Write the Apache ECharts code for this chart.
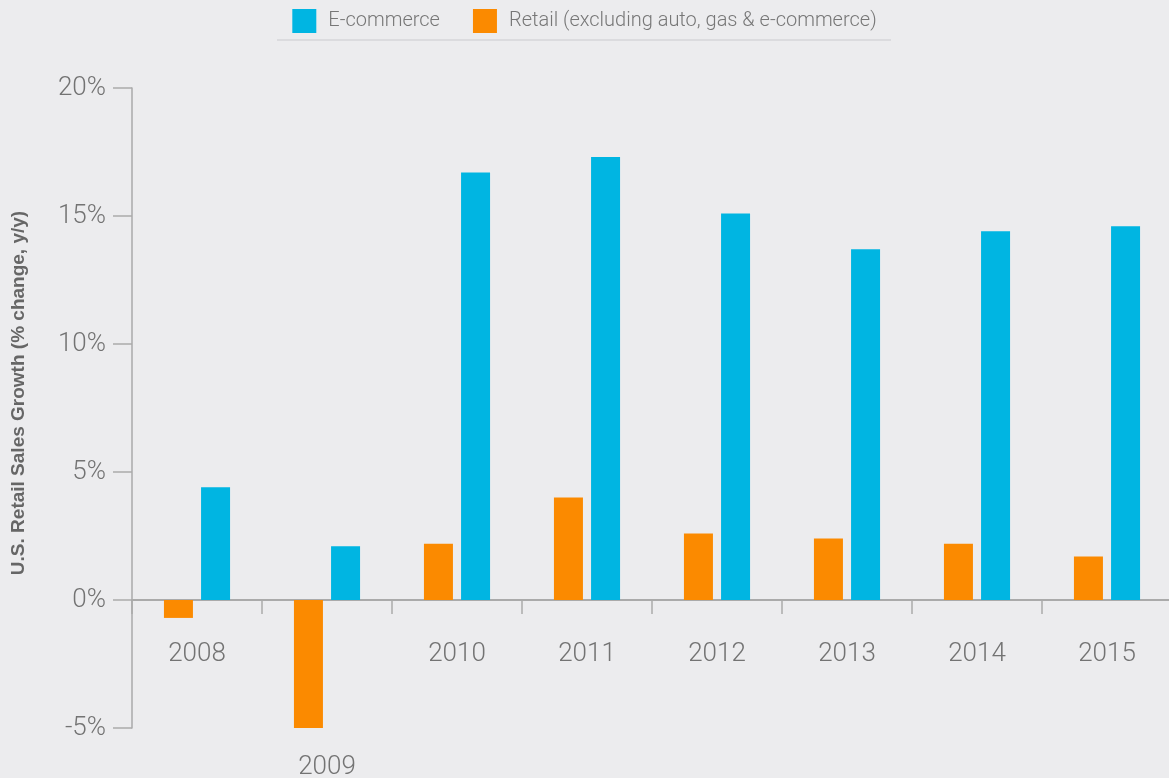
<!DOCTYPE html>
<html>
<head>
<meta charset="utf-8">
<script src="https://cdn.jsdelivr.net/npm/echarts@6/dist/echarts.min.js"></script>
<style>
html,body{margin:0;padding:0;background:#ECECEE;}
#c{width:1169px;height:778px;}
</style>
</head>
<body>
<div id="c"></div>
<script>
const years = ['2008','2009','2010','2011','2012','2013','2014','2015'];
const retail = [-0.7, -5.0, 2.2, 4.0, 2.6, 2.4, 2.2, 1.7];
const ecommerce = [4.4, 2.1, 16.7, 17.3, 15.1, 13.7, 14.4, 14.6];
const yTicks = {min: -5, max: 20, interval: 5};
const lowLabel = '2009';

const categoryData = years.map(function (y) {
  return y === lowLabel ? {value: y, textStyle: {padding: [113, 0, 0, 0]}} : y;
});

const chart = echarts.init(document.getElementById('c'));
chart.setOption({
  backgroundColor: '#ECECEE',
  animation: false,
  textStyle: {fontFamily: 'Roboto'},
  legend: {
    top: 4,
    left: 'center',
    itemWidth: 24,
    itemHeight: 24,
    itemGap: 33,
    icon: 'rect',
    data: ['E-commerce', 'Retail (excluding auto, gas & e-commerce)'],
    textStyle: {fontSize: 20, color: '#777', fontFamily: 'Roboto', fontWeight: 300, padding: [0, 0, 0, 7]}
  },
  graphic: [{
    type: 'line',
    shape: {x1: 277, y1: 40, x2: 891, y2: 40},
    style: {stroke: '#d6d6d8', lineWidth: 1.5},
    silent: true
  }],
  grid: {left: 132, right: -3, top: 88, bottom: 50, containLabel: false, outerBoundsMode: 'none'},
  xAxis: {
    type: 'category',
    data: categoryData,
    axisLine: {show: true, onZero: true, lineStyle: {color: '#aaaaaa', width: 2}},
    axisTick: {show: true, interval: 0, length: 14, alignWithLabel: false, lineStyle: {color: '#aaaaaa', width: 1.5}},
    axisLabel: {
      interval: 0,
      hideOverlap: false,
      margin: -87,
      fontSize: 26,
      color: '#737373',
      fontFamily: 'Roboto',
      fontWeight: 300
    },
    splitLine: {show: false}
  },
  yAxis: {
    type: 'value',
    min: yTicks.min,
    max: yTicks.max,
    interval: yTicks.interval,
    name: 'U.S. Retail Sales Growth (% change, y/y)',
    nameLocation: 'middle',
    nameGap: 104,
    nameTextStyle: {fontSize: 19, fontWeight: 'bold', color: '#666', fontFamily: 'Liberation Sans', padding: [0, 0, 0, 30]},
    axisLine: {show: true, lineStyle: {color: '#aaaaaa', width: 1.5}},
    axisTick: {show: true, length: 19, lineStyle: {color: '#aaaaaa', width: 1.5}},
    axisLabel: {margin: 26, fontSize: 26, color: '#737373', fontFamily: 'Roboto', fontWeight: 300, formatter: '{value}%'},
    splitLine: {show: false}
  },
  series: [
    {
      name: 'Retail (excluding auto, gas & e-commerce)',
      type: 'bar',
      data: retail,
      barWidth: 29,
      barGap: '28%',
      itemStyle: {color: '#FB8A00'}
    },
    {
      name: 'E-commerce',
      type: 'bar',
      data: ecommerce,
      barWidth: 29,
      barGap: '28%',
      itemStyle: {color: '#00B5E2'}
    }
  ]
});
</script>
</body>
</html>
